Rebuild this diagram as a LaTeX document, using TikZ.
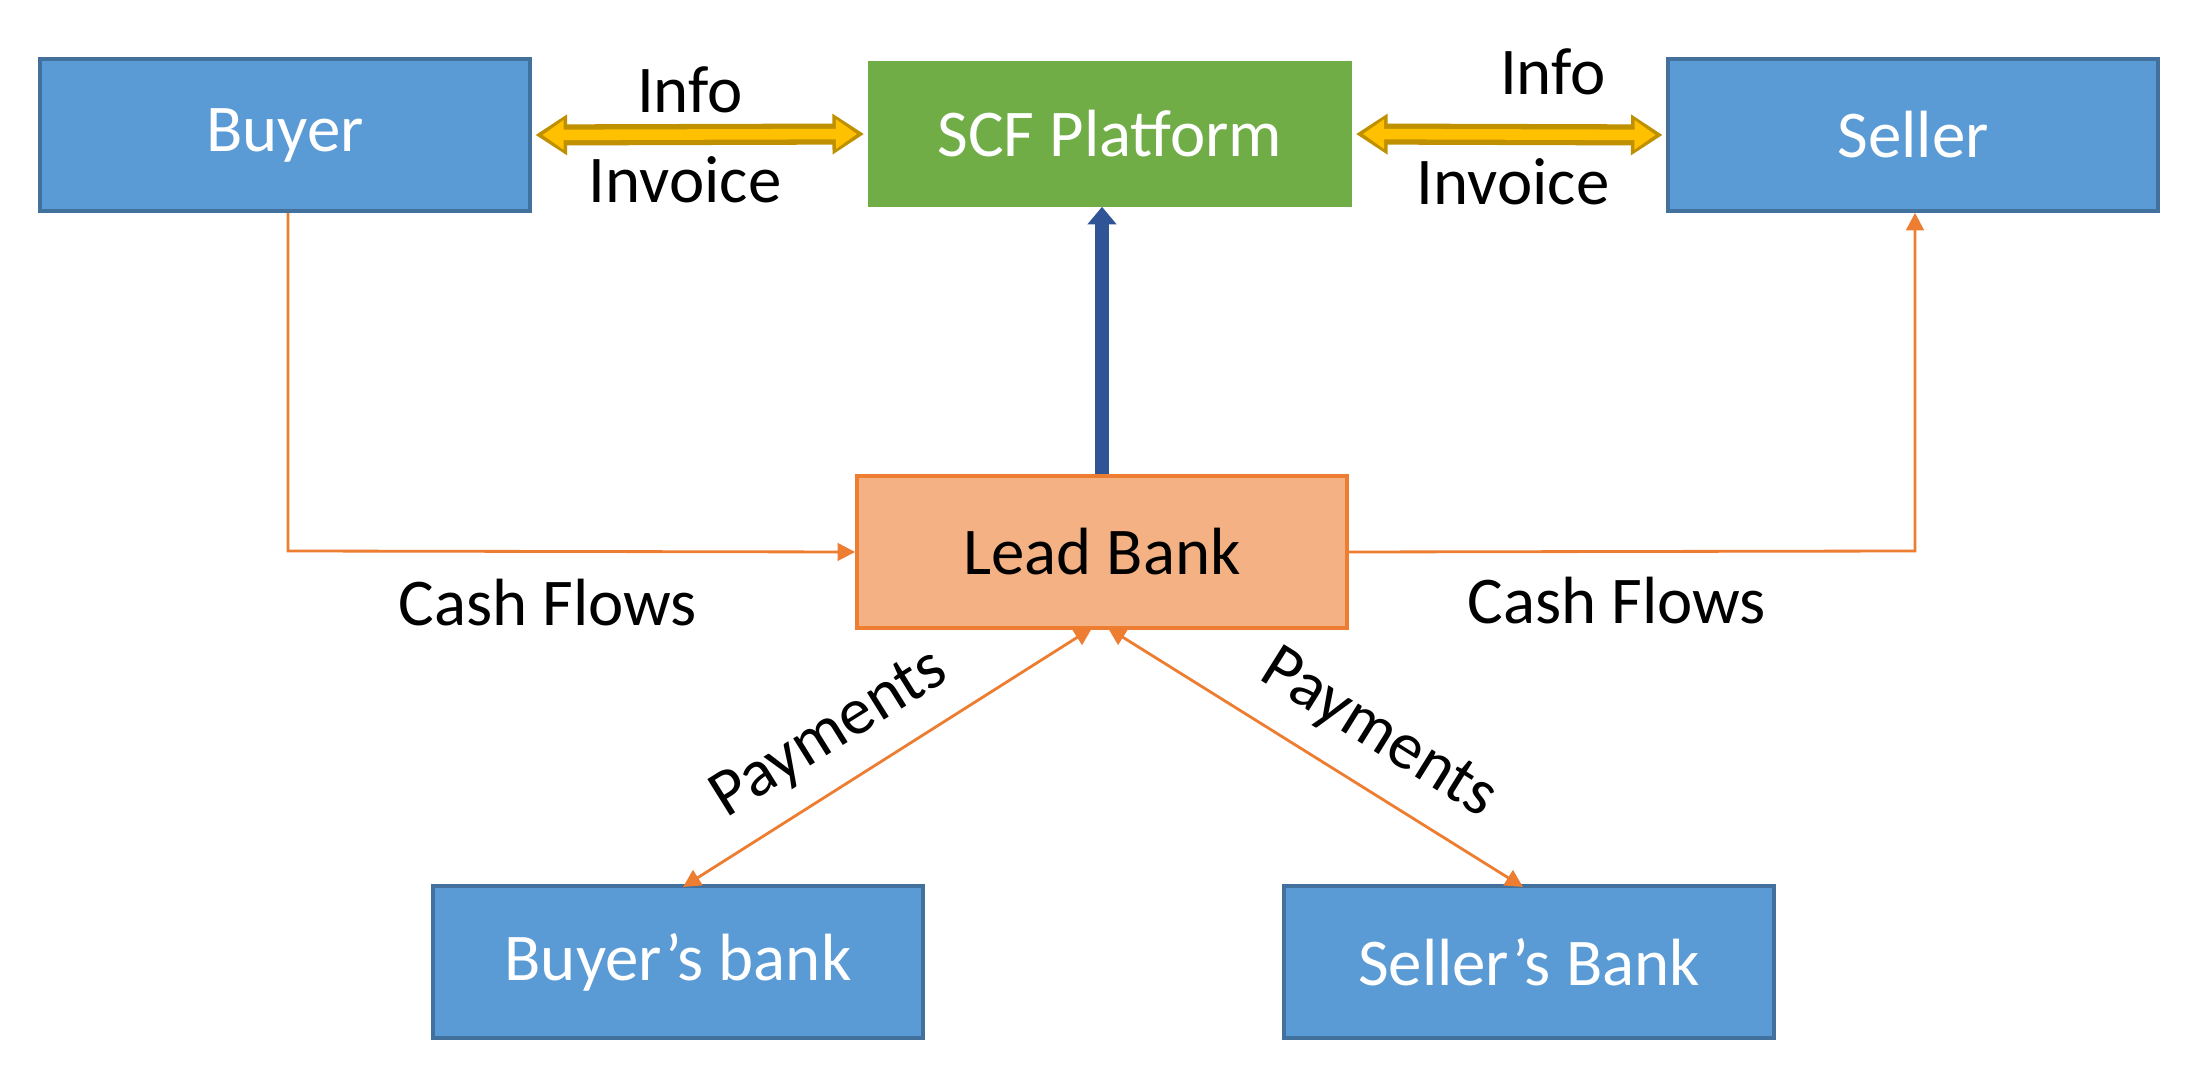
\documentclass[tikz,border=0pt]{standalone}
\usepackage{fontspec}
\setmainfont{Carlito}
\usetikzlibrary{arrows.meta}
\definecolor{boxblue}{HTML}{5B9BD5}
\definecolor{boxedge}{HTML}{41719C}
\definecolor{scfgreen}{HTML}{70AD47}
\definecolor{leadfill}{HTML}{F4B183}
\definecolor{leadedge}{HTML}{ED7D31}
\definecolor{gold}{HTML}{FFC000}
\definecolor{golddark}{HTML}{BF9000}
\definecolor{darkblue}{HTML}{2F5597}
\begin{document}
\begin{tikzpicture}[x=0.01cm,y=-0.01cm,
 box/.style={rectangle,draw=boxedge,line width=1pt,fill=boxblue,text=white,minimum width=4.9cm,minimum height=1.52cm,font=\fontsize{19}{22}\selectfont},
 lbl/.style={font=\fontsize{19}{22}\selectfont},
 flow/.style={draw=leadedge,line width=0.8pt,-{Triangle[length=5pt,width=5pt]}},
 pay/.style={draw=leadedge,line width=0.8pt,{Triangle[length=5pt,width=5pt]}-{Triangle[length=5pt,width=5pt]}},
 goldo/.style={draw=golddark,line width=6pt,{Triangle[length=9pt,width=11pt]}-{Triangle[length=9pt,width=11pt]},shorten <=1pt,shorten >=1pt},
 goldi/.style={draw=gold,line width=3pt,{Triangle[length=6pt,width=8pt]}-{Triangle[length=6pt,width=8pt]},shorten <=3pt,shorten >=3pt}]
\useasboundingbox (0,0) rectangle (2204,1080);
\node[box] (buyer) at (285,135) {Buyer};
\node[box,fill=scfgreen,draw=scfgreen,minimum width=4.81cm,minimum height=1.42cm] (scf) at (1110,134) {SCF Platform};
\node[box] (seller) at (1913,135) {Seller};
\node[box,fill=leadfill,draw=leadedge,text=black] (lead) at (1102,552) {Lead Bank};
\node[box] (bb) at (678,962) {Buyer’s bank};
\node[box] (sb) at (1529,962) {Seller’s Bank};
\draw[goldo] (buyer.east) -- (scf.west);
\draw[goldi] (buyer.east) -- (scf.west);
\draw[goldo] (scf.east) -- (seller.west);
\draw[goldi] (scf.east) -- (seller.west);
\node[lbl] (i1) at (690,90) {Info};
\node[lbl] (v1) at (685,180) {Invoice};
\node[lbl] (i2) at (1553,72) {Info};
\node[lbl] (v2) at (1513,182) {Invoice};
\draw[darkblue,line width=4pt,-{Triangle[length=5pt,width=8pt]}] (lead.north) -- (lead.north |- scf.south);
\coordinate (c1) at (288,551);
\coordinate (c2) at (1915,551);
\draw[flow] (buyer.south -| c1) -- (c1) -- (lead.west);
\draw[flow] (lead.east) -- (c2) -- (seller.south -| c2);
\node[lbl] (cf1) at (548,603) {Cash Flows};
\node[lbl] (cf2) at (1617,601) {Cash Flows};
\coordinate (lb1) at (1092,628);
\coordinate (lb2) at (1108,628);
\coordinate (bt) at (683,887);
\coordinate (st) at (1523,887);
\draw[pay] (lb1) -- (bt);
\draw[pay] (lb2) -- (st);
\node[lbl,rotate=32] (p1) at (830,735) {Payments};
\node[lbl,rotate=-32] (p2) at (1378,735) {Payments};
\end{tikzpicture}
\end{document}
